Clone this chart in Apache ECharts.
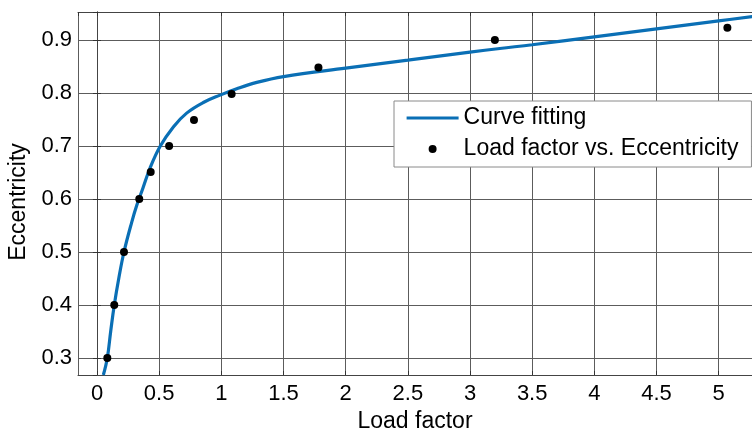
<!DOCTYPE html>
<html>
<head>
<meta charset="utf-8">
<title>Load factor vs. Eccentricity</title>
<script src="https://cdn.jsdelivr.net/npm/echarts@6/dist/echarts.min.js"></script>
<style>
    html, body { margin: 0; padding: 0; background: #fff; }
    #main { width: 752px; height: 430px; }
</style>
</head>
<body>
<div id="main"></div>
<script>
// fitted curve
var curveX = [0.051, 0.083, 0.11, 0.139, 0.175, 0.217, 0.279, 0.32, 0.367, 0.426, 0.507, 0.614, 0.721, 0.855, 0.99, 1.124, 1.285, 1.5, 2.0, 2.5, 3.0, 3.24, 3.5, 4.0, 4.5, 5.0, 5.27];
var curveY = [0.268, 0.3, 0.35, 0.4, 0.45, 0.5, 0.556, 0.588, 0.619, 0.658, 0.699, 0.736, 0.762, 0.782, 0.796, 0.808, 0.82, 0.831, 0.847, 0.862, 0.877, 0.884, 0.891, 0.906, 0.921, 0.936, 0.944];

// measured points
var pointX = [0.083, 0.139, 0.217, 0.34, 0.432, 0.58, 0.78, 1.083, 1.781, 3.2, 5.07];
var pointY = [0.3, 0.4, 0.5, 0.6, 0.651, 0.7, 0.749, 0.798, 0.848, 0.9, 0.923];

var curveName = 'Curve fitting';
var pointName = 'Load factor vs. Eccentricity';

function zip(xs, ys) {
    var out = [];
    for (var i = 0; i < xs.length; i++) {
        out.push([xs[i], ys[i]]);
    }
    return out;
}

var myChart = echarts.init(document.getElementById('main'));

var font = 'Liberation Sans';
var xMin = -0.1528, xMax = 5.268;
var yMin = 0.2679, yMax = 0.9528;

var option = {
    animation: false,
    backgroundColor: '#fff',
    textStyle: { fontFamily: font },
    grid: { left: 78, right: 0, top: 12, bottom: 55, outerBoundsMode: 'none' },
    legend: {
        orient: 'vertical',
        left: 394,
        top: 101,
        padding: [4, 13, 5, 11],
        itemGap: 5,
        itemWidth: 52,
        itemHeight: 8,
        itemTextGap: 6,
        backgroundColor: '#fff',
        borderColor: '#8a8a8a',
        borderWidth: 1,
        borderRadius: 0,
        textStyle: { fontFamily: font, fontSize: 23, lineHeight: 26, color: '#000' },
        data: [
            { name: curveName, itemStyle: { opacity: 0 }, lineStyle: { width: 3.2 } },
            { name: pointName, icon: 'circle' }
        ]
    },
    xAxis: [
        {
            type: 'value',
            min: xMin,
            max: xMax,
            splitNumber: 10,
            minInterval: 0.5,
            maxInterval: 0.5,
            name: 'Load factor',
            nameLocation: 'middle',
            nameGap: 32,
            nameTextStyle: { fontFamily: font, fontSize: 23, color: '#000' },
            axisLine: { lineStyle: { color: '#444', width: 1 } },
            axisTick: { inside: true, length: 4, lineStyle: { color: '#333' } },
            axisLabel: { fontFamily: font, fontSize: 22, color: '#000', margin: 8, showMinLabel: false, showMaxLabel: false },
            splitLine: { show: true, lineStyle: { color: '#5c5c5c', width: 1 } }
        },
        {
            type: 'value',
            position: 'top',
            min: xMin,
            max: xMax,
            splitNumber: 10,
            minInterval: 0.5,
            maxInterval: 0.5,
            axisLine: { lineStyle: { color: '#444', width: 1 } },
            axisTick: { inside: true, length: 4, lineStyle: { color: '#333' } },
            axisLabel: { show: false },
            splitLine: { show: false }
        }
    ],
    yAxis: [
        {
            type: 'value',
            min: yMin,
            max: yMax,
            splitNumber: 7,
            minInterval: 0.1,
            maxInterval: 0.1,
            name: 'Eccentricity',
            nameLocation: 'middle',
            nameGap: 44,
            nameTextStyle: { fontFamily: font, fontSize: 23, color: '#000', padding: [0, 17, 0, 0] },
            axisLine: { show: true, lineStyle: { color: '#444', width: 1 } },
            axisTick: { show: true, inside: true, length: 4, lineStyle: { color: '#333' } },
            axisLabel: { fontFamily: font, fontSize: 22, color: '#000', margin: 6, showMinLabel: false, showMaxLabel: false },
            splitLine: { show: true, lineStyle: { color: '#5c5c5c', width: 1 } }
        },
        {
            type: 'value',
            position: 'right',
            min: yMin,
            max: yMax,
            splitNumber: 7,
            minInterval: 0.1,
            maxInterval: 0.1,
            axisLine: { show: true, lineStyle: { color: '#444', width: 1 } },
            axisTick: { show: true, inside: true, length: 4, lineStyle: { color: '#333' } },
            axisLabel: { show: false },
            splitLine: { show: false }
        }
    ],
    series: [
        {
            name: curveName,
            type: 'line',
            symbol: 'none',
            smooth: 0.4,
            data: zip(curveX, curveY),
            itemStyle: { color: '#0a6fb5' },
            lineStyle: { color: '#0a6fb5', width: 3.2 },
            z: 3
        },
        {
            name: pointName,
            type: 'scatter',
            symbol: 'circle',
            symbolSize: 8,
            data: zip(pointX, pointY),
            itemStyle: { color: '#000', opacity: 1 },
            z: 4
        }
    ]
};

myChart.setOption(option);
</script>
</body>
</html>
